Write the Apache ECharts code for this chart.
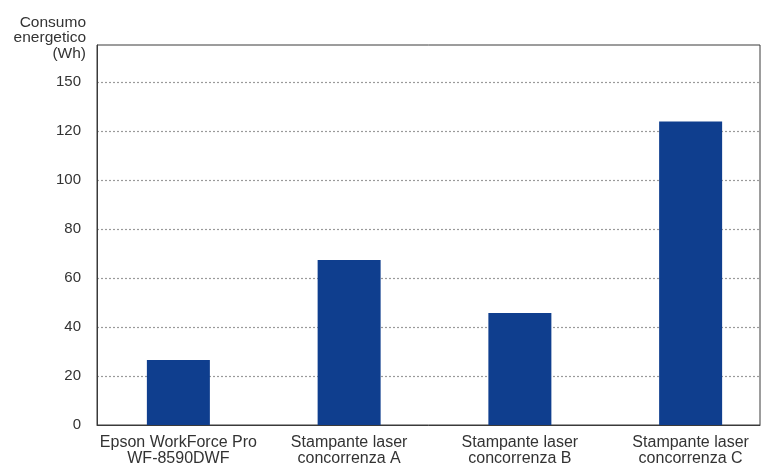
<!DOCTYPE html>
<html>
<head>
<meta charset="utf-8">
<script src="https://cdn.jsdelivr.net/npm/echarts@6/dist/echarts.min.js"></script>
<style>
html,body{margin:0;padding:0;background:#fff;}
#c{width:766px;height:465px;}
</style>
</head>
<body>
<div id="c"></div>
<script>
const categories = ['Epson WorkForce Pro\nWF-8590DWF', 'Stampante laser\nconcorrenza A', 'Stampante laser\nconcorrenza B', 'Stampante laser\nconcorrenza C'];
const energyWh = [26.5, 67.3, 45.7, 123.8];
const tickValues = [0, 20, 40, 60, 80, 100, 120, 140];
const tickLabels = ['0', '20', '40', '60', '80', '100', '120', '150'];
const axisTitle = 'Consumo\nenergetico\n(Wh)';

const FONT = '"Liberation Sans", Arial, Helvetica, sans-serif';
const TEXT = '#333';
const LINE = '#3a3a3a';

const chart = echarts.init(document.getElementById('c'), null, {renderer: 'canvas'});
chart.setOption({
  backgroundColor: '#fff',
  animation: false,
  grid: [
    {left: 97, right: 6, top: 45, bottom: 40, show: true, borderColor: LINE, borderWidth: 1, backgroundColor: 'transparent', containLabel: false, outerBoundsMode: 'none'},
    {left: 93, width: 683, top: 45, bottom: 40, containLabel: false, outerBoundsMode: 'none'}
  ],
  xAxis: [
    {gridIndex: 0, type: 'category', data: categories, axisLine: {show: true, lineStyle: {color: LINE, width: 1}}, axisTick: {show: false}, axisLabel: {show: false}, splitLine: {show: false}},
    {gridIndex: 1, type: 'category', data: categories, axisLine: {show: false}, axisTick: {show: false},
     axisLabel: {color: TEXT, fontFamily: FONT, fontSize: 16, lineHeight: 16, margin: 10, interval: 0}}
  ],
  yAxis: [
    {gridIndex: 0, type: 'value', min: 0, max: 155, interval: 20,
     name: axisTitle, nameLocation: 'end', nameGap: 7,
     nameTextStyle: {color: TEXT, fontFamily: FONT, fontSize: 15.5, lineHeight: 15.5, align: 'right', verticalAlign: 'middle', padding: [0, 11, 0, 0]},
     axisLine: {show: true, lineStyle: {color: LINE, width: 1}}, axisTick: {show: false},
     axisLabel: {color: TEXT, fontFamily: FONT, fontSize: 15, margin: 16,
       formatter: function (v) { const i = tickValues.indexOf(v); return i >= 0 ? tickLabels[i] : ''; }},
     splitLine: {show: true, showMinLine: false, showMaxLine: false, lineStyle: {color: '#9a9a9a', type: [2, 2], width: 1.2}}},
    {gridIndex: 1, type: 'value', min: 0, max: 155, interval: 20, show: false, splitLine: {show: false}}
  ],
  series: [{
    type: 'bar', xAxisIndex: 1, yAxisIndex: 1, data: energyWh, barWidth: 63,
    itemStyle: {color: '#0f3e8e'}, z: 3
  }]
});
</script>
</body>
</html>
